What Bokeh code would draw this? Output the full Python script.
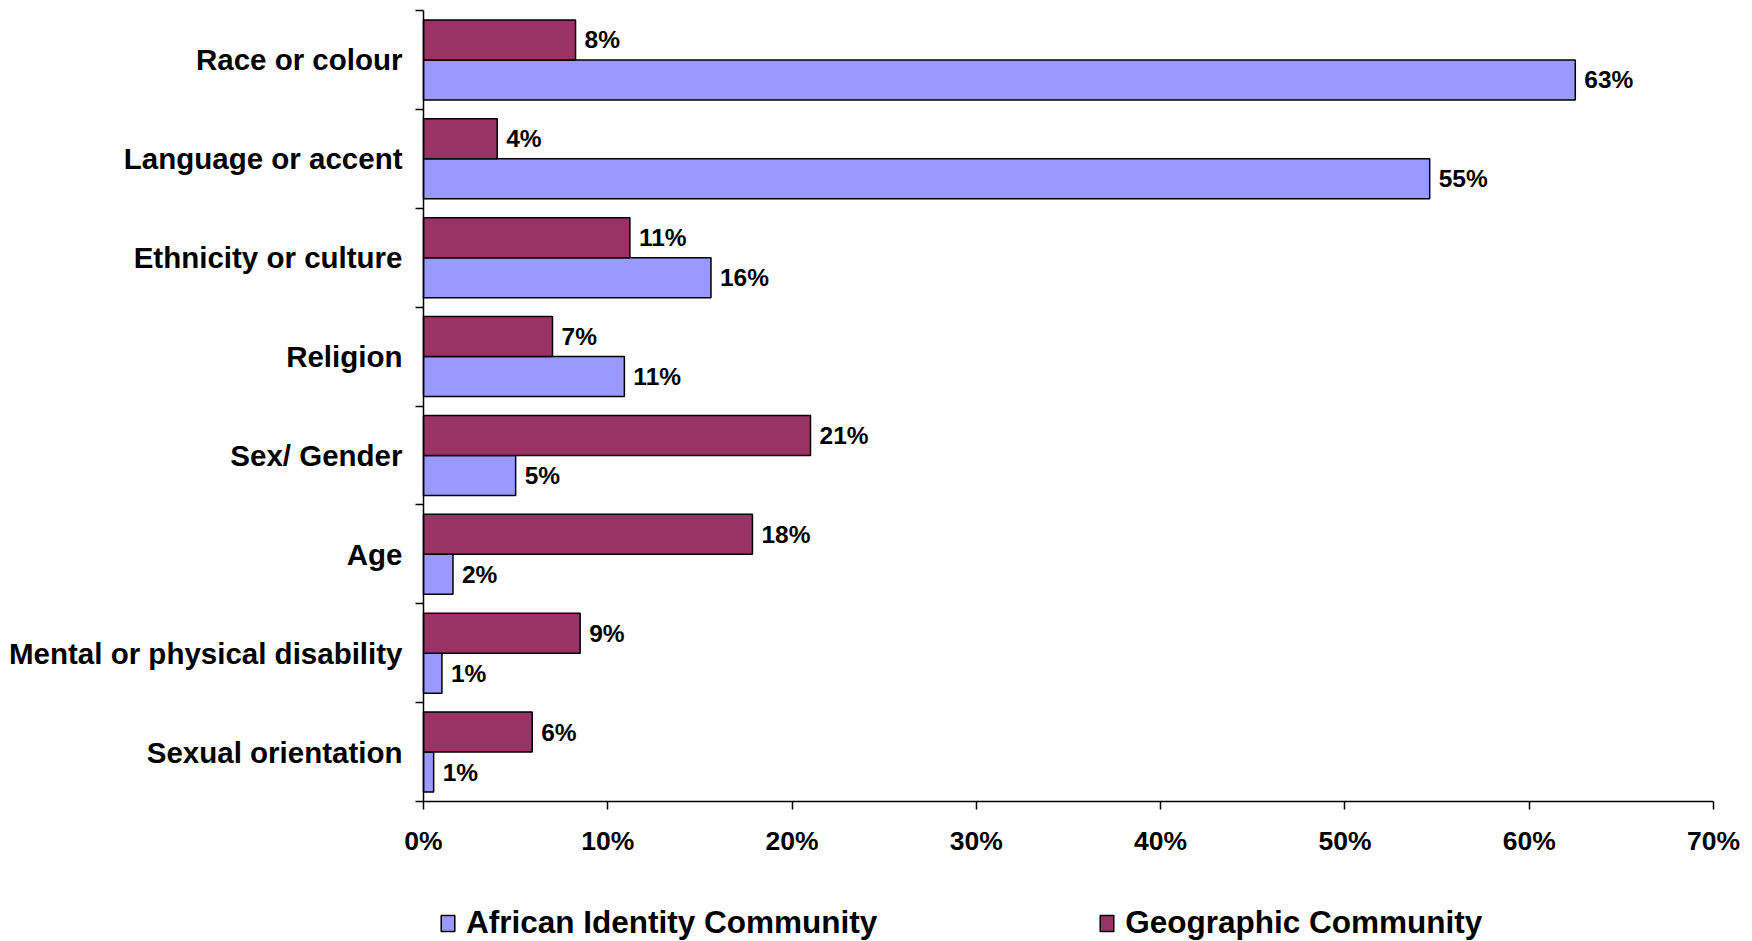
from bokeh.plotting import figure
from bokeh.models import Range1d, FixedTicker, Legend, LegendItem, ColumnDataSource, PrintfTickFormatter
from bokeh.core.properties import value
from bokeh.embed import file_html
from bokeh.resources import INLINE

categories = ["Race or colour", "Language or accent", "Ethnicity or culture", "Religion",
              "Sex/ Gender", "Age", "Mental or physical disability", "Sexual orientation"]
african = [62.5, 54.6, 15.6, 10.9, 5.0, 1.6, 1.0, 0.55]
geographic = [8.25, 4.0, 11.2, 7.0, 21.0, 17.85, 8.5, 5.9]
african_labels = ["63%", "55%", "16%", "11%", "5%", "2%", "1%", "1%"]
geographic_labels = ["8%", "4%", "11%", "7%", "21%", "18%", "9%", "6%"]
x_ticks = [0, 10, 20, 30, 40, 50, 60, 70]

BLUE = "#9999FF"
MAROON = "#993366"
FONT = "Liberation Sans"
BAR_H = 0.405

n = len(categories)
idx = list(range(n))
src_a = ColumnDataSource(dict(y=[i + BAR_H / 2 for i in idx], v=african, lbl=african_labels))
src_g = ColumnDataSource(dict(y=[i - BAR_H / 2 for i in idx], v=geographic, lbl=geographic_labels))

# Whole canvas is the frame; axes are pinned so their labels are not clipped.
W, H = 1751, 941
AX_LEFT, AX_RIGHT = 423, 1713      # pixel positions of 0% and 70%
AX_TOP, AX_BOTTOM = 10, 801        # pixel positions of top / bottom of category bands
XMAX = x_ticks[-1]
ppx = (AX_RIGHT - AX_LEFT) / XMAX
ppy = (AX_BOTTOM - AX_TOP) / n
x_lo = -AX_LEFT / ppx
x_hi = XMAX + (W - AX_RIGHT) / ppx
y_top = -0.5 - AX_TOP / ppy
y_bot = -0.5 + (H - AX_TOP) / ppy

p = figure(frame_width=W, frame_height=H,
           min_border_left=0, min_border_right=0, min_border_top=0, min_border_bottom=0,
           x_range=Range1d(x_lo, x_hi), y_range=Range1d(y_bot, y_top),
           output_backend="svg", toolbar_location=None)
p.outline_line_color = None
p.xgrid.visible = False
p.ygrid.visible = False
p.background_fill_color = "white"
p.border_fill_color = "white"

rb = p.hbar(y="y", right="v", left=0, height=BAR_H, source=src_a,
            fill_color=BLUE, line_color="black", line_width=1.5)
rg = p.hbar(y="y", right="v", left=0, height=BAR_H, source=src_g,
            fill_color=MAROON, line_color="black", line_width=1.5)

for src in (src_a, src_g):
    p.text(x="v", y="y", text="lbl", source=src, x_offset=9,
           text_baseline="middle", text_align="left",
           text_font=value(FONT), text_font_style="bold", text_font_size="24.5px",
           text_color="black")

# x axis, pinned at the bottom of the category bands
xa = p.xaxis[0]
xa.fixed_location = n - 0.5
xa.bounds = (0, XMAX)
xa.ticker = FixedTicker(ticks=x_ticks)
xa.formatter = PrintfTickFormatter(format="%d%%")
xa.axis_line_color = "black"
xa.axis_line_width = 1.5
xa.major_tick_line_color = "black"
xa.major_tick_line_width = 1.5
xa.major_tick_out = 8
xa.major_tick_in = 0
xa.minor_tick_line_color = None
xa.major_label_standoff = 16
xa.major_label_text_font = FONT
xa.major_label_text_font_style = "bold"
xa.major_label_text_font_size = "26.5px"
xa.major_label_text_color = "black"

# y axis, pinned at 0%
ya = p.yaxis[0]
ya.fixed_location = 0
ya.bounds = (-0.5, n - 0.5)
ya.ticker = FixedTicker(ticks=idx, minor_ticks=[i - 0.5 for i in range(n + 1)])
ya.major_label_overrides = {i: c for i, c in enumerate(categories)}
ya.axis_line_color = "black"
ya.axis_line_width = 1.5
ya.major_tick_out = 0
ya.major_tick_in = 0
ya.major_tick_line_color = None
ya.minor_tick_out = 8
ya.minor_tick_in = 0
ya.minor_tick_line_color = "black"
ya.minor_tick_line_width = 1.5
ya.major_label_standoff = 13
ya.major_label_text_font = FONT
ya.major_label_text_font_style = "bold"
ya.major_label_text_font_size = "29.5px"
ya.major_label_text_color = "black"

legend = Legend(items=[LegendItem(label="African Identity Community", renderers=[rb]),
                       LegendItem(label="Geographic Community", renderers=[rg])],
                orientation="horizontal", location=(AX_LEFT + 16, 0),
                glyph_width=17, glyph_height=20, label_standoff=10, spacing=221,
                padding=0, margin=0, border_line_color=None, background_fill_alpha=0,
                label_text_font=FONT, label_text_font_style="bold",
                label_text_font_size="31.5px", label_text_color="black")
p.add_layout(legend, "center")

open("out.html", "w").write(file_html(p, INLINE))
